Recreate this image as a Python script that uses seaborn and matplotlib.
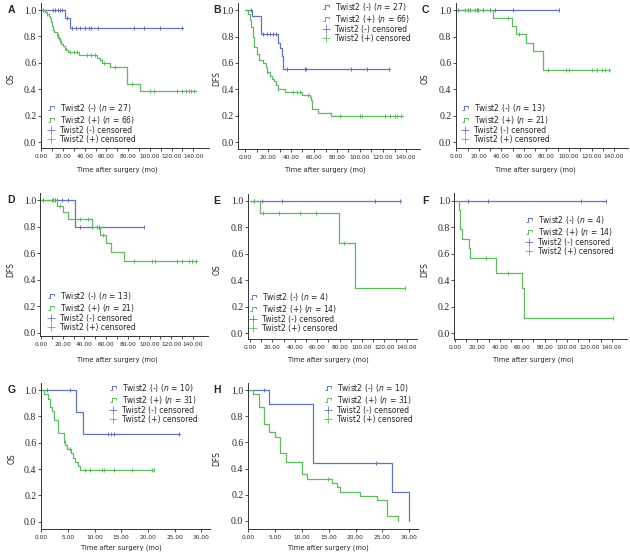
import numpy as np
import matplotlib
matplotlib.use('Agg')
import matplotlib.pyplot as plt
from matplotlib.lines import Line2D
from matplotlib.path import Path
from matplotlib.ticker import FormatStrFormatter
import seaborn as sns

# ---- data: step times, survival after each step, censor times ----
# A: OS, all patients
a_neg_time = [0, 22, 26, 130.7]
a_neg_surv = [1.0, 0.94, 0.86, 0.86]
a_neg_cens = [2, 11, 13, 15, 17, 19, 24, 28, 32, 36, 40.5, 43.5, 45.5, 52.5, 85, 95, 109, 130]
a_pos_time = [0, 3.5, 5, 7, 8, 9, 10, 11, 12, 14, 15.5, 17, 18.5, 20, 21.5, 23, 25, 35, 51, 54, 56,
              63.5, 79, 91.3, 142]
a_pos_surv = [1.0, 0.985, 0.97, 0.955, 0.94, 0.91, 0.88, 0.85, 0.83, 0.82, 0.79, 0.76, 0.745, 0.73,
              0.715, 0.70, 0.68, 0.66, 0.64, 0.62, 0.60, 0.565, 0.44, 0.39, 0.39]
a_pos_cens = [5, 14.5, 16.5, 18, 22, 26.5, 30, 33, 42.5, 45.5, 49.5, 58, 68, 83.5, 100.5, 104, 125,
              130, 133, 136, 137.5, 140.5]

# B: DFS, all patients
b_neg_time = [0, 5.8, 14, 28.4, 30.5, 32.2, 33.2, 126]
b_neg_surv = [1.0, 0.96, 0.82, 0.75, 0.71, 0.65, 0.555, 0.555]
b_neg_cens = [4.9, 16, 18.8, 21.7, 24.6, 26.7, 36.2, 52, 53, 92, 106, 125]
b_pos_time = [0, 2.9, 4.3, 5.2, 6.7, 8.1, 10.7, 12.5, 15.9, 18, 19.4, 21.7, 23.8, 25.5, 27, 28.4,
              34.8, 49.3, 56.5, 57.4, 58.6, 63.8, 74.8, 137.7]
b_pos_surv = [1.0, 0.97, 0.93, 0.87, 0.80, 0.72, 0.67, 0.62, 0.60, 0.57, 0.53, 0.50, 0.48, 0.46,
              0.43, 0.40, 0.38, 0.36, 0.34, 0.32, 0.25, 0.22, 0.20, 0.20]
b_pos_cens = [19.4, 28.4, 42, 44.9, 47.8, 55, 82.6, 100, 101.4, 121.7, 126, 130.4, 131.9, 136]

# C: OS, subgroup
c_neg_time = [0, 91.4]
c_neg_surv = [1.0, 1.0]
c_neg_cens = [1.2, 10.7, 12.2, 18.1, 19.6, 24, 30, 34.4, 50.7, 91]
c_pos_time = [0, 33, 49.3, 53, 62, 67.7, 76.6, 136.8]
c_pos_surv = [1.0, 0.94, 0.88, 0.82, 0.755, 0.69, 0.55, 0.55]
c_pos_cens = [7.7, 12.2, 16.6, 18.1, 45.7, 55.2, 81, 97.3, 100.3, 120.5, 125, 129.4, 132.3, 135.3]

# D: DFS, subgroup
d_neg_time = [0, 31.4, 95]
d_neg_surv = [1.0, 0.80, 0.80]
d_neg_cens = [2.2, 11.4, 12.9, 14.5, 19, 25.2, 36, 46.8, 51.4, 53, 94.5]
d_pos_time = [0, 15, 20.6, 24.6, 46.8, 54.5, 60, 64.6, 76, 143.7]
d_pos_surv = [1.0, 0.955, 0.91, 0.857, 0.80, 0.74, 0.675, 0.61, 0.54, 0.54]
d_pos_cens = [10, 17.5, 36, 43.5, 51.4, 57.5, 85.2, 102, 105, 125, 129.8, 136, 139, 143]

# E: OS, subgroup
e_neg_time = [0, 134.5]
e_neg_surv = [1.0, 1.0]
e_neg_cens = [3.6, 11, 28.8, 112, 134]
e_pos_time = [0, 8.6, 79.8, 93.5, 138.6]
e_pos_surv = [1.0, 0.909, 0.682, 0.341, 0.341]
e_pos_cens = [3.6, 11.6, 25.8, 44.2, 59, 83.7, 138]

# F: DFS, subgroup
f_neg_time = [0, 135]
f_neg_surv = [1.0, 1.0]
f_neg_cens = [11.9, 29.7, 112.8, 135]
f_pos_time = [0, 3.5, 4.8, 5.9, 12.5, 13.4, 37, 60, 61.4, 141]
f_pos_surv = [1.0, 0.929, 0.786, 0.714, 0.643, 0.571, 0.457, 0.343, 0.114, 0.114]
f_pos_cens = [27.6, 46.9, 141]

# G: OS, subgroup (short follow-up)
g_neg_time = [0, 6.56, 7.8, 26.1]
g_neg_surv = [1.0, 0.833, 0.667, 0.667]
g_neg_cens = [1.06, 5.4, 12.6, 13.1, 13.7, 25.9]
g_pos_time = [0, 0.6, 1.25, 1.7, 2.0, 2.3, 3.1, 4.2, 4.5, 4.8, 5.6, 5.9, 6.4, 6.8, 7.3, 21.2]
g_pos_surv = [1.0, 0.97, 0.935, 0.87, 0.84, 0.77, 0.67, 0.61, 0.58, 0.55, 0.52, 0.48, 0.45, 0.42,
              0.39, 0.39]
g_pos_cens = [4.3, 5.3, 8.25, 9.06, 11.4, 11.7, 13.6, 17, 20.75, 21.1]

# H: DFS, subgroup (short follow-up)
h_neg_time = [0, 3.9, 12, 26.9, 29.9]
h_neg_surv = [1.0, 0.89, 0.44, 0.22, 0.0]
h_neg_cens = [3.0, 23.8]
h_pos_time = [0, 0.9, 2.0, 3.0, 3.9, 5.0, 6.0, 7.0, 10.0, 10.9, 15.6, 16.5, 17.1, 20.8, 24.0, 25.8, 27.9]
h_pos_surv = [1.0, 0.97, 0.87, 0.74, 0.68, 0.645, 0.52, 0.45, 0.355, 0.32, 0.29, 0.26, 0.225, 0.19,
              0.16, 0.035, 0.0]
h_pos_cens = [14.9]

letters = ['A', 'B', 'C', 'D', 'E', 'F', 'G', 'H']
ylabels = ['OS', 'DFS', 'OS', 'DFS', 'OS', 'DFS', 'OS', 'DFS']
n_neg = [27, 27, 13, 13, 4, 4, 10, 10]
n_pos = [66, 66, 21, 21, 14, 14, 31, 31]

BLUE = '#6373bd'
GREEN = '#5cbb5c'
W, H = 630, 556

# layout in pixels: x of t=0, px per unit, xlim, y of 1.0, y of 0.0, ylim bottom,
# legend text left/first line y, letter x, xlabel y
LAYOUT = {
    'A': dict(x0=41.3, ppx=1.086, xlim=(-0.5, 154), y1=10, y0=142, ylo=-0.043, leg=(60, 108), lx=11, xly=170),
    'B': dict(x0=245, ppx=1.15, xlim=(-6, 152), y1=10.3, y0=142, ylo=-0.05, leg=(335, 6.7), lx=217, xly=170),
    'C': dict(x0=456.3, ppx=1.127, xlim=(-0.5, 152), y1=10.3, y0=142, ylo=-0.043, leg=(474, 108), lx=425, xly=170),
    'D': dict(x0=41, ppx=1.086, xlim=(-0.5, 154), y1=200.3, y0=333, ylo=-0.02, leg=(60, 296), lx=11, xly=360),
    'E': dict(x0=250, ppx=1.12, xlim=(-2, 149), y1=201, y0=333.3, ylo=-0.045, leg=(262, 296.7), lx=217, xly=360),
    'F': dict(x0=455, ppx=1.12, xlim=(-0.5, 154), y1=200.7, y0=333.3, ylo=-0.043, leg=(538, 220), lx=425, xly=360),
    'G': dict(x0=41.3, ppx=5.33, xlim=(-0.1, 31.7), y1=390, y0=521.7, ylo=-0.055, leg=(122, 387.7), lx=12, xly=548),
    'H': dict(x0=248.3, ppx=5.36, xlim=(-0.1, 31.7), y1=390, y0=521, ylo=-0.06, leg=(337, 387.7), lx=217, xly=548),
}
YHI = 1.055
LEG_FS = 5.5

curves = {
    'A': (a_neg_time, a_neg_surv, a_neg_cens, a_pos_time, a_pos_surv, a_pos_cens),
    'B': (b_neg_time, b_neg_surv, b_neg_cens, b_pos_time, b_pos_surv, b_pos_cens),
    'C': (c_neg_time, c_neg_surv, c_neg_cens, c_pos_time, c_pos_surv, c_pos_cens),
    'D': (d_neg_time, d_neg_surv, d_neg_cens, d_pos_time, d_pos_surv, d_pos_cens),
    'E': (e_neg_time, e_neg_surv, e_neg_cens, e_pos_time, e_pos_surv, e_pos_cens),
    'F': (f_neg_time, f_neg_surv, f_neg_cens, f_pos_time, f_pos_surv, f_pos_cens),
    'G': (g_neg_time, g_neg_surv, g_neg_cens, g_pos_time, g_pos_surv, g_pos_cens),
    'H': (h_neg_time, h_neg_surv, h_neg_cens, h_pos_time, h_pos_surv, h_pos_cens),
}

sns.set_style('ticks')
plt.rcParams['font.family'] = ['DejaVu Sans']
plt.rcParams['mathtext.fontset'] = 'dejavusans'

STEP_MARKER = Path([(-1, -0.45), (-0.35, -0.45), (-0.35, 0.45), (1, 0.45), (1, 0.05)])


def surv_at(time, surv, t):
    idx = np.searchsorted(np.asarray(time), np.asarray(t), side='right') - 1
    return np.asarray(surv)[idx]


def fx(px):
    return px / W


def fy(py):
    return 1 - py / H


def draw_panel(fig, letter, ylabel, nn, np_):
    lay = LAYOUT[letter]
    ppy = lay['y0'] - lay['y1']
    left = lay['x0'] + lay['xlim'][0] * lay['ppx']
    right = lay['x0'] + lay['xlim'][1] * lay['ppx']
    top = lay['y1'] - (YHI - 1) * ppy
    bottom = lay['y0'] - lay['ylo'] * ppy
    ax = fig.add_axes([fx(left), fy(bottom), (right - left) / W, (bottom - top) / H])

    nt, ns, nc, pt, ps, pc = curves[letter]
    for t, s, c, col in [(nt, ns, nc, BLUE), (pt, ps, pc, GREEN)]:
        sns.lineplot(x=t, y=s, drawstyle='steps-post', estimator=None, sort=False,
                     color=col, linewidth=0.9, ax=ax)
        ax.plot(c, surv_at(t, s, c), linestyle='none', marker='|', markersize=3.4,
                markeredgewidth=0.7, color=col)

    ax.set_xlim(*lay['xlim'])
    ax.set_ylim(lay['ylo'], YHI)
    short = lay['xlim'][1] < 40
    if short:
        ax.set_xticks(np.arange(0, 31, 5))
        xmid = 15
    else:
        ax.set_xticks(np.arange(0, 141, 20))
        ax.set_xticks(np.arange(10, 141, 20), minor=True)
        xmid = 70
    ax.set_yticks(np.arange(0, 1.01, 0.2))
    ax.xaxis.set_major_formatter(FormatStrFormatter('%.2f'))
    ax.yaxis.set_major_formatter(FormatStrFormatter('%.1f'))
    ax.tick_params(axis='both', which='both', direction='out', length=2.2, width=0.6,
                   color='#333333', pad=1)
    ax.tick_params(axis='x', labelsize=4.2, pad=2.2)
    ax.tick_params(axis='y', labelsize=7)
    for lab in ax.get_yticklabels():
        lab.set_family('Liberation Serif')
    for sp in ['left', 'bottom']:
        ax.spines[sp].set_linewidth(0.7)
        ax.spines[sp].set_color('#333333')
    sns.despine(ax=ax)
    ax.set_facecolor('none')

    ax.set_xlabel('Time after surgery (mo)', fontsize=4.9)
    ax.xaxis.set_label_coords(fx(lay['x0'] + xmid * lay['ppx']), fy(lay['xly']), transform=fig.transFigure)
    ax.xaxis.label.set_va('center')
    ax.set_ylabel(ylabel, fontsize=5.5)
    ax.yaxis.set_label_coords(fx(lay['lx']), fy(lay['y0'] - 0.48 * ppy), transform=fig.transFigure)
    ax.yaxis.label.set_va('center')

    fig.text(fx(lay['lx']), fy(lay['y1']), letter, fontsize=7.5, fontweight='bold',
             family='Liberation Sans', ha='center', va='center')

    handles = [
        Line2D([], [], color=BLUE, marker=STEP_MARKER, linestyle='none', markersize=5,
               markerfacecolor='none', markeredgewidth=0.7),
        Line2D([], [], color=GREEN, marker=STEP_MARKER, linestyle='none', markersize=5,
               markerfacecolor='none', markeredgewidth=0.7),
        Line2D([], [], color=BLUE, marker='+', linestyle='none', markersize=6, markeredgewidth=0.6),
        Line2D([], [], color=GREEN, marker='+', linestyle='none', markersize=6, markeredgewidth=0.6),
    ]
    labels = [r'Twist2 (-) ($n$ = %d)' % nn, r'Twist2 (+) ($n$ = %d)' % np_,
              'Twist2 (-) censored', 'Twist2 (+) censored']
    fs_px = LEG_FS * 100 / 72
    hl, htp = 1.0, 0.7
    tx, ty = lay['leg']
    ax.legend(handles, labels, loc='upper left', frameon=False, fontsize=LEG_FS,
              handlelength=hl, handletextpad=htp, borderpad=0, borderaxespad=0,
              labelspacing=0.0,
              bbox_to_anchor=(fx(tx - (hl + htp) * fs_px), fy(ty - 6)),
              bbox_transform=fig.transFigure)
    return ax


fig = plt.figure(figsize=(W / 100, H / 100), dpi=100)
for letter, ylabel, nn, np_ in zip(letters, ylabels, n_neg, n_pos):
    draw_panel(fig, letter, ylabel, nn, np_)
fig.savefig('out.png', dpi=100)
